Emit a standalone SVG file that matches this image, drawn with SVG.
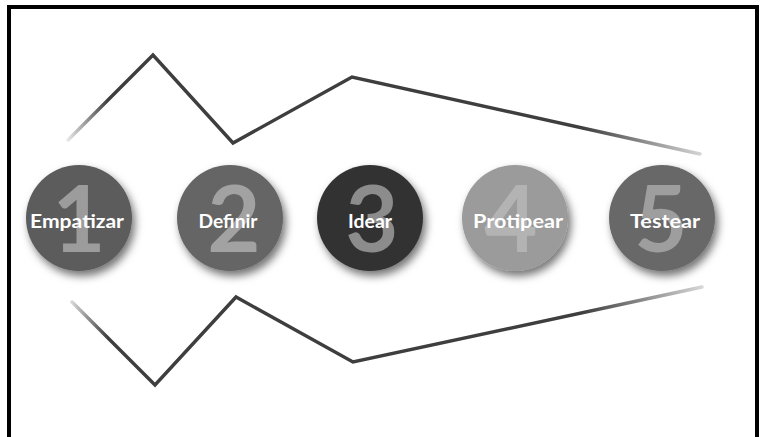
<svg xmlns="http://www.w3.org/2000/svg" width="764" height="437" viewBox="0 0 764 437">
  <style>
    .num { font-family: Lato, "Open Sans", "DejaVu Sans", sans-serif; font-weight: bold; font-size: 92px; text-anchor: middle; }
    .lbl { font-family: Lato, "Open Sans", "DejaVu Sans", sans-serif; font-weight: bold; font-size: 18px; fill: #ffffff; text-anchor: middle; }
    .stroke { fill: none; stroke: #3e3e3e; stroke-width: 3.4; stroke-linejoin: miter; stroke-linecap: round; }
  </style>
  <defs>
    <filter id="shadow" x="-30%" y="-30%" width="170%" height="170%">
      <feDropShadow dx="3" dy="5" stdDeviation="4" flood-color="#000" flood-opacity="0.55"/>
    </filter>
    <linearGradient id="fadeX" gradientUnits="userSpaceOnUse" x1="62" y1="0" x2="712" y2="0">
      <stop offset="0" stop-color="#fff" stop-opacity="0"/>
      <stop offset="0.07" stop-color="#fff" stop-opacity="1"/>
      <stop offset="0.8" stop-color="#fff" stop-opacity="1"/>
      <stop offset="1" stop-color="#fff" stop-opacity="0.15"/>
    </linearGradient>
    <mask id="fade">
      <rect x="0" y="0" width="764" height="437" fill="url(#fadeX)"/>
    </mask>
  </defs>

  <rect x="0" y="0" width="764" height="437" fill="#ffffff"/>

  <!-- frame -->
  <path d="M9 437 V7 H757 V437" fill="none" stroke="#000" stroke-width="4"/>

  <!-- brush-stroke zigzags above and below the row of steps -->
  <g id="connectors" mask="url(#fade)">
    <polyline class="stroke" points="68,140 153,55 233,143 352,77 700,154"/>
    <polyline class="stroke" points="72,302 155,385 236,297 353,362 702,287"/>
  </g>

  <g id="step1">
    <circle cx="79" cy="218" r="53" fill="#5c5c5c" filter="url(#shadow)"/>
    <text class="num" x="79" y="252" fill="#9c9c9c">1</text>
    <text class="lbl" x="77" y="228" textLength="94" lengthAdjust="spacingAndGlyphs">Empatizar</text>
  </g>

  <g id="step2">
    <circle cx="230" cy="218" r="53" fill="#656565" filter="url(#shadow)"/>
    <text class="num" x="234" y="252" fill="#a2a2a2">2</text>
    <text class="lbl" x="228" y="228" textLength="59" lengthAdjust="spacingAndGlyphs">Definir</text>
  </g>

  <g id="step3">
    <circle cx="370" cy="218" r="53" fill="#333333" filter="url(#shadow)"/>
    <text class="num" x="372" y="252" fill="#8c8c8c">3</text>
    <text class="lbl" x="370" y="228" textLength="44" lengthAdjust="spacingAndGlyphs">Idear</text>
  </g>

  <g id="step4">
    <circle cx="515" cy="218" r="53" fill="#9b9b9b" filter="url(#shadow)"/>
    <text class="num" x="511" y="252" fill="#b3b3b3">4</text>
    <text class="lbl" x="518" y="228" textLength="90" lengthAdjust="spacingAndGlyphs">Protipear</text>
  </g>

  <g id="step5">
    <circle cx="662" cy="218" r="53" fill="#686868" filter="url(#shadow)"/>
    <text class="num" x="661" y="252" fill="#9e9e9e">5</text>
    <text class="lbl" x="665" y="228" textLength="70" lengthAdjust="spacingAndGlyphs">Testear</text>
  </g>
</svg>
